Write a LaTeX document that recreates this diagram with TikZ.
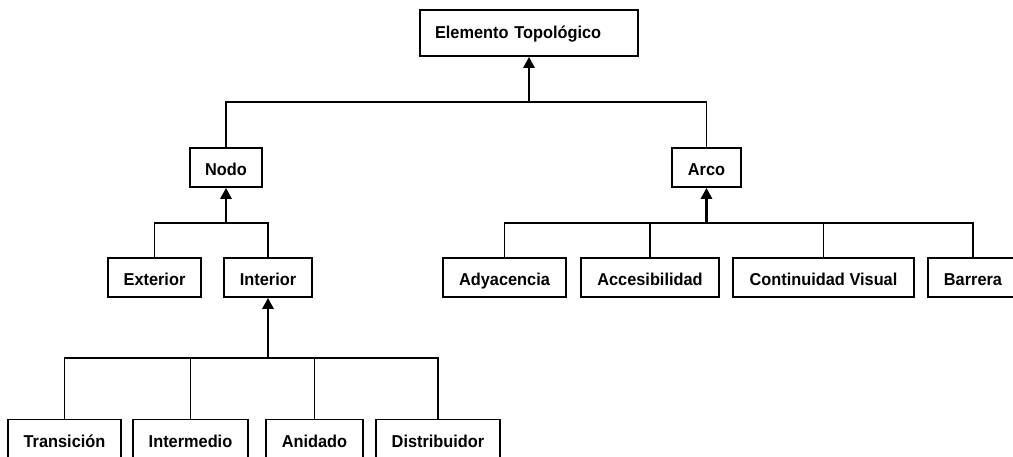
\documentclass[tikz,border=0pt]{standalone}
\usepackage{fontspec}
\setmainfont{Liberation Sans}[FakeStretch=0.95]
\usetikzlibrary{arrows.meta}
\begin{document}
\begin{tikzpicture}[x=1pt,y=-1pt,
  box/.style={draw=black,line width=1.7pt,fill=white,inner sep=0pt,
    minimum height=39pt,text height=16.2pt,text depth=0pt,
    font=\fontsize{17.2}{20}\selectfont\bfseries},
  link/.style={draw=black,line width=1.8pt,line join=miter},
  trunk/.style={draw=black,line width=2.7pt,-{Triangle[length=11pt,width=11pt]}}]
\useasboundingbox (0,0) rectangle (1013,457);
\clip (0,0) rectangle (1013,457);
% nodes
\node[box,minimum width=218pt,minimum height=46pt,text width=188pt,align=left,
  inner xsep=15pt,text height=12pt] (top) at (529,33) {Elemento Topológico};
\node[box,minimum width=72pt] (nodo) at (226,167.5) {Nodo};
\node[box,minimum width=69pt] (arco) at (706.5,167.5) {Arco};
\node[box,minimum width=93pt] (ext) at (154.5,277.5) {Exterior};
\node[box,minimum width=88pt] (int) at (268,277.5) {Interior};
\node[box,minimum width=123pt] (ady) at (504.5,277.5) {Adyacencia};
\node[box,minimum width=138pt] (acc) at (650,277.5) {Accesibilidad};
\node[box,minimum width=181pt] (con) at (823.5,277.5) {Continuidad Visual};
\node[box,minimum width=90pt] (bar) at (973,277.5) {Barrera};
\node[box,minimum width=113pt] (tra) at (64.5,439) {Transición};
\node[box,minimum width=115pt] (inm) at (190.5,439) {Intermedio};
\node[box,minimum width=97pt] (ani) at (314.5,439) {Anidado};
\node[box,minimum width=124pt] (dis) at (438,439) {Distribuidor};
% bus points
\coordinate (bt) at (529,102);
\coordinate (bn) at (226,223);
\coordinate (ba) at (706.5,223);
\coordinate (bi) at (268,358);
% connectors
\draw[link] (nodo.north) |- (bt);
\draw[link] (arco.north) |- (bt);
\draw[trunk] (bt) -- (top.south);
\draw[link] (ext.north) |- (bn);
\draw[link] (int.north) |- (bn);
\draw[trunk] (bn) -- (nodo.south);
\draw[link] (ady.north) |- (ba);
\draw[link] (acc.north) |- (ba);
\draw[link] (con.north) |- (ba);
\draw[link] (bar.north) |- (ba);
\draw[trunk] (ba) -- (arco.south);
\draw[link] (tra.north) |- (bi);
\draw[link] (inm.north) |- (bi);
\draw[link] (ani.north) |- (bi);
\draw[link] (dis.north) |- (bi);
\draw[trunk] (bi) -- (int.south);
\end{tikzpicture}
\end{document}
